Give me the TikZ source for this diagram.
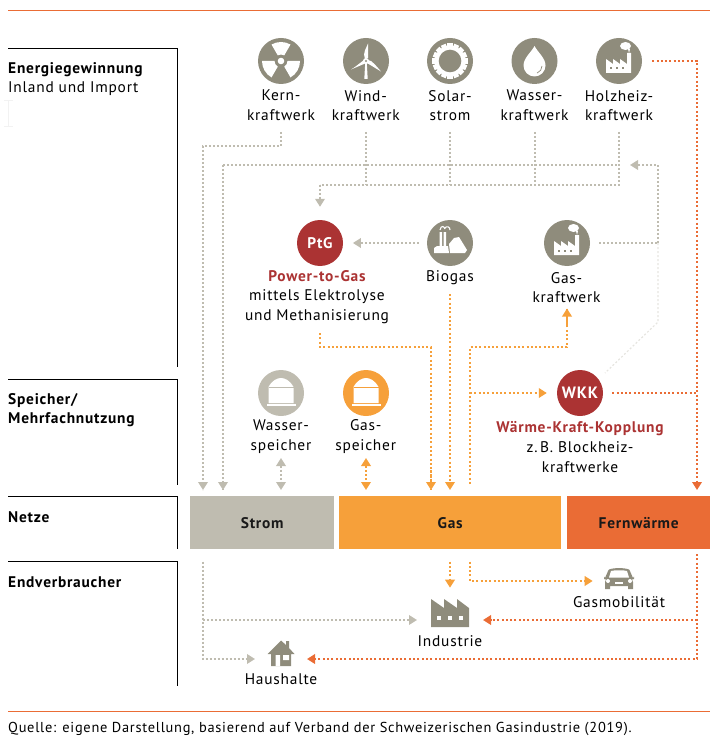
\documentclass[tikz,border=0pt]{standalone}
\usepackage{fontspec}
\setmainfont[LetterSpace=5]{PT Sans}
\usetikzlibrary{arrows.meta,calc}
\definecolor{icong}{HTML}{8F8C7C}
\definecolor{lineg}{HTML}{BFBCB0}
\definecolor{lineo}{HTML}{F6A03A}
\definecolor{lined}{HTML}{EA6C35}
\definecolor{redc}{HTML}{AB3333}
\definecolor{lightl}{HTML}{E6E5E0}
\tikzset{
 disc/.style={circle,minimum size=46pt,inner sep=0pt,fill=#1},
 lbl/.style={align=center,font=\fontsize{15.4}{19.7}\selectfont,text=black,inner sep=0pt,anchor=center},
 head/.style={align=left,font=\fontsize{15.4}{19.7}\selectfont,text=black,inner sep=0pt,anchor=west},
 bar/.style={minimum height=53pt,inner sep=0pt,anchor=north west,font=\fontsize{15.4}{17}\selectfont\bfseries,text=black!90},
 frame/.style={black,line width=1pt},
 gdot/.style={lineg,line width=1.9pt,dash pattern=on 2pt off 2pt},
 odot/.style={lineo,line width=1.9pt,dash pattern=on 2pt off 2.3pt},
 ddot/.style={lined,line width=1.9pt,dash pattern=on 2pt off 2.3pt},
 ltdot/.style={lightl,line width=1.2pt,dash pattern=on 2pt off 2pt},
 tip/.style={-{Triangle[length=8pt,width=9.5pt]}},
 both/.style={{Triangle[length=8pt,width=9.5pt]}-{Triangle[length=8pt,width=9.5pt]}},
 factory/.pic={
   \fill[white] (-13,12) -- (-13,-2) -- (-6,3) -- (-6,-2) -- (1,3) -- (1,-2) -- (8,3) -- (8,-8) -- (12,-8) -- (12,12) -- cycle;
   \fill[white] (6.5,-15) ellipse (5.5 and 4);
   \fill[white] (9,-12) -- (11,-12) -- (10,-8) -- cycle;
   \foreach \q in {-8,-2,4}{\fill[icong] (\q-1,6.5) rectangle (\q+1,8.5);}
 },
}
\begin{document}
\begin{tikzpicture}[x=1pt,y=-1pt]
\useasboundingbox (0,0) rectangle (716,743);
% rules and frames
\draw[lined,line width=1pt] (8,10.5) -- (710,10.5);
\draw[lined,line width=1pt] (8,711) -- (710,711);
\draw[frame] (8,48.5) -| (177.5,367);
\draw[frame] (8,379.5) -| (177.5,485);
\draw[frame] (8,496.5) -| (177.5,549);
\draw[frame] (8,561.5) -| (177.5,686);
\draw[black!5,line width=.8pt] (4,100.5) -- (13,100.5) (8.5,100.5) -- (8.5,126.5) (4,126.5) -- (13,126.5);
% heads
\node[head] (h1) at (8,69.5) {\bfseries Energiegewinnung};
\node[head] (h1b) at (8,89) {Inland und Import};
\node[head] (h2) at (8,400.5) {\bfseries Speicher/};
\node[head] (h2b) at (8,420) {\bfseries Mehrfachnutzung};
\node[head] (h3) at (8,517.5) {\bfseries Netze};
\node[head] (h4) at (8,582.5) {\bfseries Endverbraucher};
% bars
\node[bar,fill=lineg,minimum width=144pt] (strom) at (190,496) {Strom};
\node[bar,fill=lineo,minimum width=222pt] (gas) at (339,496) {Gas};
\node[bar,fill=lined,minimum width=143pt] (fern) at (567,496) {Fernwärme};
% discs
\node[disc=icong] (kern) at (281,61) {};
\node[disc=icong] (wind) at (366,61) {};
\node[disc=icong] (solar) at (450,61) {};
\node[disc=icong] (wasser) at (534.5,61) {};
\node[disc=icong] (holz) at (619,61) {};
\node[disc=redc,font=\fontsize{15.4}{17}\selectfont\bfseries,text=white] (ptg) at (320,243) {PtG};
\node[disc=icong] (bio) at (450,243) {};
\node[disc=icong] (gkw) at (567,243) {};
\node[disc=redc,font=\fontsize{16.4}{17}\selectfont\bfseries,text=white] (wkk) at (580,393) {WKK};
\node[disc=lineg] (wsp) at (281,393) {};
\node[disc=lineo] (gsp) at (366,393) {};
% radiation icon
\begin{scope}[shift={(kern.center)}]
 \foreach \a in {-90,30,150}{
  \fill[white] (\a-30:6.5) -- (\a-30:19) arc[start angle=\a-30,end angle=\a+30,radius=19] -- (\a+30:6.5) arc[start angle=\a+30,end angle=\a-30,radius=6.5] -- cycle;}
 \fill[white] (0,0) circle (3.3);
\end{scope}
% wind icon
\begin{scope}[shift={(wind.center)}]
 \fill[white] (-0.8,2) -- (0.8,2) -- (1.7,18) -- (-1.7,18) -- cycle;
 \fill[white] (-1,-2) .. controls (-4,-8) and (1,-14) .. (2,-17.5) -- (2.2,-3) -- cycle;
 \fill[white] (2,-1) .. controls (6,-1) and (11,6) .. (15,10.5) -- (1,2) -- cycle;
 \fill[white] (-2,-1) .. controls (-6,2) and (-12,7) .. (-15,8.5) -- (-1,2.5) -- cycle;
 \fill[white] (0,0) circle (3);
 \fill[icong] (0,0) circle (1.1);
\end{scope}
% sun icon
\begin{scope}[shift={(solar.center)}]
 \fill[white] (0,0) circle (15.3);
 \foreach \a in {0,22.5,...,337.5}{\fill[white,rotate=\a] (-2.6,-14) rectangle (2.6,-17.6);}
 \fill[icong] (0,0) circle (11.3);
\end{scope}
% drop icon
\begin{scope}[shift={(wasser.center)}]
 \fill[white] (0,-15) .. controls (3,-9) and (11,-3) .. (11,4.5) arc[start angle=0,end angle=180,radius=11] .. controls (-11,-3) and (-3,-9) .. cycle;
 \draw[icong,line width=.7pt] (7.5,5) arc[start angle=0,end angle=70,radius=7.5];
\end{scope}
% factories
\pic at (holz.center) {factory};
\pic at (gkw.center) {factory};
% biogas icon
\begin{scope}[shift={(bio.center)}]
 \fill[white] (-10.5,-11) rectangle (-7.8,4) (-6.5,-11) rectangle (-3.8,4);
 \fill[white] (-16,10) -- (-16,5) -- (-13,3) -- (-2,3) -- (-1,10) -- cycle;
 \fill[white] (-1,1) -- (4,-5) -- (9,-6) -- (17,7) -- (15,10) -- (0,10) -- cycle;
 \draw[white,line width=1.1pt] (-10,-13) .. controls (-9,-18) and (-6,-17) .. (-5,-14) (-5.5,-14.5) .. controls (-3,-18) and (0,-16) .. (0,-13);
\end{scope}
% tanks
\foreach \t/\c in {wsp/lineg,gsp/lineo}{
\begin{scope}[shift={(\t.center)}]
 \fill[white] (-12.5,10) -- (-12.5,-6) .. controls (-9,-12.5) and (-4,-15) .. (0,-15) .. controls (4,-15) and (9,-12.5) .. (12.5,-6) -- (12.5,10) -- cycle;
 \draw[\c,line width=.7pt] (-12.5,-6) -- (12.5,-6);
 \fill[white] (-14.5,10.5) rectangle (14.5,13);
\end{scope}}
% labels
\node[lbl] (l1) at (281,105.5) {Kern-\\kraftwerk};
\node[lbl] (l2) at (365.7,105.5) {Wind-\\kraftwerk};
\node[lbl] (l3) at (450,105.5) {Solar-\\strom};
\node[lbl] (l4) at (534.5,105.5) {Wasser-\\kraftwerk};
\node[lbl] (l5) at (619,105.5) {Holzheiz-\\kraftwerk};
\node[lbl] (l6) at (317,297) {\textcolor{redc}{\bfseries Power-to-Gas}\\mittels Elektrolyse\\und Methanisierung};
\node[lbl] (l7) at (450,277.5) {Biogas};
\node[lbl] (l8) at (566.5,287.5) {Gas-\\kraftwerk};
\node[lbl] (l9) at (281,436.5) {Wasser-\\speicher};
\node[lbl] (l10) at (365.7,436.5) {Gas-\\speicher};
\node[lbl] (l11) at (580,447) {\textcolor{redc}{\bfseries Wärme-Kraft-Kopplung}\\z.\,B. Blockheiz-\\kraftwerke};
\node[lbl] (l12) at (619,602.5) {Gasmobilität};
\node[lbl] (l13) at (450,641.5) {Industrie};
\node[lbl] (l14) at (281,679.5) {Haushalte};
\node[lbl,anchor=west,font=\fontsize{14.4}{16}\selectfont] (src) at (8,729) {Quelle: eigene Darstellung, basierend auf Verband der Schweizerischen Gasindustrie (2019).};
% consumer icons
\coordinate (car) at (619,578);
\begin{scope}[shift={(car)}]
 \fill[icong] (-14,0) -- (-10.5,-8) .. controls (-9,-10.5) and (9,-10.5) .. (10.5,-8) -- (14,0) -- (15,-1.5) -- (15,1) -- (13,1.5) -- (14,4) -- (14,11) -- (9,11) -- (9,8) -- (-9,8) -- (-9,11) -- (-14,11) -- (-14,4) -- (-13,1.5) -- (-15,1) -- (-15,-1.5) -- cycle;
 \fill[white] (-10,-.5) -- (-8,-7) .. controls (-5,-8) and (5,-8) .. (8,-7) -- (10,-.5) -- cycle;
 \fill[white] (-11,3) circle (2) (11,3) circle (2);
 \fill[white] (-4,4) rectangle (4,6);
\end{scope}
\coordinate (ind) at (431,627);
\begin{scope}[shift={(ind)}]
 \fill[icong] (0,0) -- (0,-28) -- (13,-19) -- (13,-28) -- (26,-19) -- (26,-28) -- (38,-19) -- (38,0) -- cycle;
 \foreach \q in {6,17,28}{\fill[white] (\q,-11) rectangle (\q+4,-7);}
\end{scope}
\coordinate (house) at (281,653);
\begin{scope}[shift={(house)}]
 \fill[icong] (-13.5,1) -- (0,-12.5) -- (5,-8) -- (5,-12) -- (8,-12) -- (8,-5) -- (13.5,1) -- (10,1) -- (10,13) -- (-10,13) -- (-10,1) -- cycle;
 \fill[white] (-5.5,2) rectangle (-1,13) (2,2) rectangle (8,7);
\end{scope}
% routing points
\coordinate (a1) at (203,146);
\coordinate (a2) at (223,165);
\coordinate (a3) at (320,185);
\coordinate (b1) at (658,165);
\coordinate (b2) at (658,243);
\coordinate (b3) at (658,322);
\coordinate (b4) at (605,373);
\coordinate (k1) at (281,132);
\coordinate (w1) at (366,132);
\coordinate (s1) at (450,132);
\coordinate (v1) at (535,132);
\coordinate (h1c) at (619,132);
\coordinate (k2) at (203,490);
\coordinate (k3) at (223,490);
\coordinate (e1) at (697,490);
\coordinate (o1) at (320,333);
\coordinate (o2) at (431,347);
\coordinate (o3) at (431,490);
\coordinate (o4) at (450,294);
\coordinate (o5) at (450,490);
\coordinate (o6) at (470,484);
\coordinate (o7) at (567,347);
\coordinate (o8) at (567,308.5);
\coordinate (c1) at (203,561.5);
\coordinate (c2) at (450,561.5);
\coordinate (c3) at (470,561.5);
\coordinate (c4) at (697,554);
\coordinate (hw) at (255,659);
\coordinate (hr) at (307,659);
\coordinate (iw) at (417,620);
\coordinate (ir) at (483,620);
\coordinate (gm) at (592.7,581);
\coordinate (ib) at (450,587.7);
% connectors
\draw[gdot] (k1) |- (a1) -- (a1 |- k2);
\draw[gdot,tip] (a1 |- 0,482) -- (k2);
\draw[gdot] (a2) -- (a2 |- k3);
\draw[gdot,tip] (a2 |- 0,482) -- (k3);
\draw[gdot] (a2) -- (h1c |- a2);
\draw[gdot] (w1) -- (w1 |- a3);
\draw[gdot] (s1) -- (s1 |- a3);
\draw[gdot] (v1) -- (v1 |- a3);
\draw[gdot] (h1c) |- (a3);
\draw[gdot,tip,shorten >=13pt] (a3) -- (ptg.north);
\draw[gdot,tip,shorten <=8pt,shorten >=9.7pt] (bio.west) -- (ptg.east);
\draw[gdot,tip,shorten >=0pt] (b2) -- (b1) -- (630,165);
\draw[gdot,shorten <=9pt] (gkw.east) -- (b2);
\draw[ltdot] (b2) -- (b3) -- (b4);
\draw[ddot,tip,shorten <=10pt] (holz.east) -| (e1);
\draw[ddot,shorten <=9pt] (wkk.east) -- (e1 |- wkk.east);
\draw[odot] (o1) |- (o2) -- (o3);
\draw[odot,tip] (o2 |- 0,470) -- (o3);
\draw[odot,tip] (o4) -- (o5);
\draw[odot] (o6) |- (o7) -- (o8);
\draw[odot,tip] (567,325) -- (o8);
\draw[odot,tip] (o6 |- wkk.west) -- ([xshift=-10pt]wkk.west);
\draw[gdot,both] (281,458) -- (281,490);
\draw[odot,both] (366,458) -- (366,490);
% consumer connectors
\draw[gdot,tip] (c1) |- (hw);
\draw[gdot,tip] (c1 |- iw) -- (iw);
\draw[odot,tip] (c2) -- (ib);
\draw[odot,tip] (c3) |- (gm);
\draw[ddot,tip] (c4) |- (hr);
\draw[ddot,tip] (c4 |- ir) -- (ir);
\end{tikzpicture}
\end{document}
